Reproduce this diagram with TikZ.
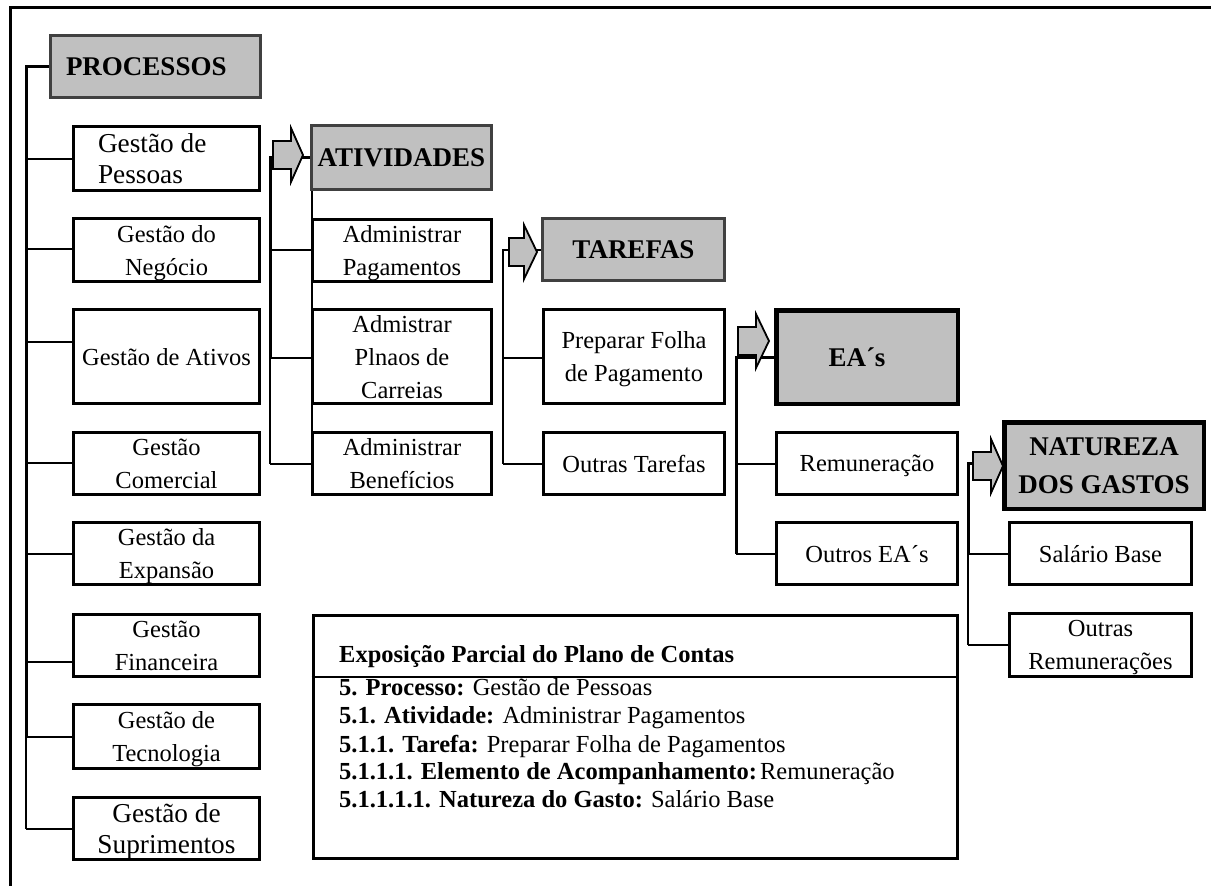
\documentclass[tikz,border=0pt]{standalone}
\usepackage{fontspec}
\setmainfont{Liberation Serif}
\definecolor{hgray}{HTML}{C0C0C0}
\newcommand\fsn{\fontsize{24.5pt}{33pt}\selectfont}
\newcommand\fsl{\fontsize{27.3pt}{31pt}\selectfont}
\newcommand\fhd{\fontsize{27pt}{38pt}\selectfont\bfseries}
\newcommand\barrowat[4]{%
  \draw[blockarr] ({#1},{#4-14}) -- ({#2},{#4-14}) -- ({#2},{#4-27}) -- ({#3},{#4})
    -- ({#2},{#4+27}) -- ({#2},{#4+14}) -- ({#1},{#4+14}) -- cycle;}
\tikzset{
  box/.style={draw=black, line width=2pt, fill=white, inner sep=0pt, align=center, font=\fsn, text depth=0pt},
  hdr/.style={draw=black!75, line width=2pt, fill=hgray, inner sep=0pt, align=center, font=\fhd},
  conn/.style={line width=2pt},
  bar/.style={line width=3pt},
  blockarr/.style={draw=black, line width=1.8pt, fill=hgray, line join=miter},
  line/.style={anchor=base west, inner sep=0pt, font=\fsn},
}
\begin{document}
\begin{tikzpicture}[x=1pt, y=-1pt]
\useasboundingbox (0,0) rectangle (1211,886);
% outer frame
\draw[line width=3pt] (10,886) -- (10,7.5) -- (1211,7.5);

% ---------- nodes (positions) ----------
\node[hdr, minimum width=209pt, minimum height=61pt] (proc) at (155.5,66.5) {\makebox[179pt][l]{PROCESSOS}};
\node[box, font=\fsl, minimum width=185pt, minimum height=63pt] (gp) at (166.5,158.5) {\makebox[137pt][l]{Gestão de}\\\makebox[137pt][l]{Pessoas}};
\node[box, minimum width=185pt, minimum height=62pt] (gn) at (166.5,250) {Gestão do\\Negócio};
\node[box, minimum width=185pt, minimum height=93pt] (ga) at (166.5,356.5) {Gestão de Ativos};
\node[box, minimum width=185pt, minimum height=61pt] (gc) at (166.5,463.5) {Gestão\\Comercial};
\node[box, minimum width=185pt, minimum height=61pt] (ge) at (166.5,553.5) {Gestão da\\Expansão};
\node[box, minimum width=185pt, minimum height=61pt] (gf) at (166.5,645.5) {Gestão\\Financeira};
\node[box, minimum width=185pt, minimum height=63pt] (gt) at (166.5,736.5) {Gestão de\\Tecnologia};
\node[box, font=\fsl, minimum width=185pt, minimum height=61pt] (gs) at (166.5,828.5) {Gestão de\\Suprimentos};

\node[hdr, minimum width=179pt, minimum height=63pt] (ativ) at (401.5,157.5) {ATIVIDADES};
\node[box, minimum width=178pt, minimum height=61pt] (ap) at (402,250.5) {Administrar\\Pagamentos};
\node[box, minimum width=178pt, minimum height=93pt] (apc) at (402,356.5) {Admistrar\\Plnaos de\\Carreias};
\node[box, minimum width=178pt, minimum height=61pt] (ab) at (402,463.5) {Administrar\\Benefícios};

\node[hdr, minimum width=181pt, minimum height=61pt] (tar) at (633.5,249.5) {TAREFAS};
\node[box, minimum width=180pt, minimum height=93pt] (pf) at (634,356.5) {Preparar Folha\\de Pagamento};
\node[box, minimum width=180pt, minimum height=61pt] (ot) at (634,463.5) {Outras Tarefas};

\node[hdr, draw=black, line width=3pt, minimum width=180pt, minimum height=92pt] (ea) at (867,357) {\hspace*{-20pt}EA´s};
\node[box, minimum width=180pt, minimum height=61pt] (rem) at (867,463.5) {Remuneração};
\node[box, minimum width=180pt, minimum height=61pt] (oea) at (867,553.5) {Outros EA´s};

\node[hdr, draw=black, line width=3pt, minimum width=198pt, minimum height=85pt] (nat) at (1104,465.5) {NATUREZA\\DOS GASTOS};
\node[box, minimum width=181pt, minimum height=61pt] (sb) at (1100.5,553.5) {Salário Base};
\node[box, minimum width=181pt, minimum height=62pt] (orr) at (1100.5,645) {Outras\\Remunerações};

% ---------- connectors ----------
% PROCESSOS bracket
\coordinate (p0) at (26,66.5);
\coordinate (p1) at (26,159);
\coordinate (p2) at (26,249);
\coordinate (p3) at (26,342);
\coordinate (p4) at (26,463);
\coordinate (p5) at (26,554);
\coordinate (p6) at (26,662);
\coordinate (p7) at (26,737);
\coordinate (p8) at (26,828.5);
\draw[bar] (p0 -| proc.west) -- (p0) -- (p7);
\draw[conn] (p7) -- (p8);
\foreach \c/\n in {p1/gp,p2/gn,p3/ga,p4/gc,p5/ge,p6/gf,p7/gt,p8/gs}
  \draw[conn] (\c) -- (\c -| \n.west);

% ATIVIDADES bracket
\coordinate (a0) at (270,157.5);
\coordinate (a1) at (270,250);
\coordinate (a2) at (270,358);
\coordinate (a3) at (270,463.5);
\draw[bar] (ativ.west) -- (a0) -- (a2);
\draw[conn] (a2) -- (a3);
\foreach \c/\n in {a1/ap,a2/apc,a3/ab}
  \draw[conn] (\c) -- (\c -| \n.west);
\draw[conn] (ap.west |- ativ.south) -- (ab.north west);

% TAREFAS bracket
\coordinate (t0) at (503,250);
\coordinate (t1) at (503,358);
\coordinate (t2) at (503,463.5);
\draw[conn] (t0 -| tar.west) -- (t0) -- (t2);
\foreach \c/\n in {t1/pf,t2/ot}
  \draw[conn] (\c) -- (\c -| \n.west);

% EA bracket
\coordinate (e0) at (736,357);
\coordinate (e1) at (736,463.5);
\coordinate (e2) at (736,554);
\draw[bar] (ea.west) -- (e0) -- (e2);
\foreach \c/\n in {e1/rem,e2/oea}
  \draw[conn] (\c) -- (\c -| \n.west);

% NATUREZA bracket
\coordinate (n0) at (968,463);
\coordinate (n1) at (968,554);
\coordinate (n2) at (968,645);
\draw[bar] (n0 -| nat.west) -- (n0) -- (n1);
\draw[conn] (n1) -- (n2);
\foreach \c/\n in {n1/sb,n2/orr}
  \draw[conn] (\c) -- (\c -| \n.west);

% block arrows
\barrowat{273}{291}{303}{155}
\barrowat{509}{524}{537}{252}
\barrowat{738}{756}{769}{341}
\barrowat{973}{991}{1003}{466}

% ---------- Exposicao box ----------
\node[draw=black, line width=3pt, fill=white, inner sep=0pt, minimum width=644pt, minimum height=243pt] (expbox) at (635,736.5) {};
\coordinate (hl) at (313,677);
\draw[conn] (hl -| expbox.west) -- (hl -| expbox.east);
\node[line, font=\fsn\bfseries] (exph) at (339,662) {Exposição Parcial do Plano de Contas};
\node[line] (ex1) at (339,695) {\textbf{5. Processo:} Gestão de Pessoas};
\node[line] (ex2) at (339,723) {\textbf{5.1. Atividade:} Administrar Pagamentos};
\node[line] (ex3) at (339,752) {\textbf{5.1.1. Tarefa:} Preparar Folha de Pagamentos};
\node[line] (ex4) at (339,779) {\textbf{5.1.1.1. Elemento de Acompanhamento:}\kern3pt Remuneração};
\node[line] (ex5) at (339,807) {\textbf{5.1.1.1.1. Natureza do Gasto:} Salário Base};

% redraw box borders on top of connectors
\foreach \n in {gp,gn,ga,gc,ge,gf,gt,gs,ap,apc,ab,pf,ot,rem,oea,sb,orr}
  \draw[line width=2pt] (\n.north west) rectangle (\n.south east);
\foreach \n in {proc,ativ,tar}
  \draw[line width=2pt, draw=black!75] (\n.north west) rectangle (\n.south east);
\foreach \n in {ea,nat}
  \draw[line width=3pt] (\n.north west) rectangle (\n.south east);
\end{tikzpicture}
\end{document}
